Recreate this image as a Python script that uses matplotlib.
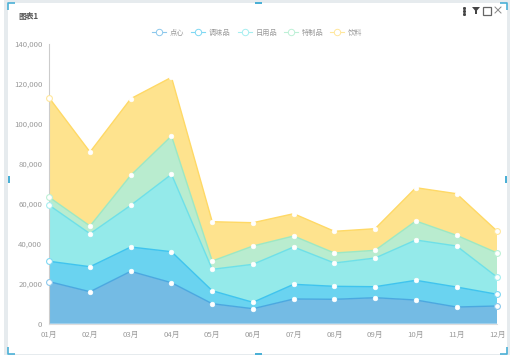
"""Stacked area chart of monthly sales inside a dashboard widget frame."""

import numpy as np
import matplotlib
matplotlib.use('Agg')
import matplotlib.pyplot as plt
from matplotlib.lines import Line2D
from matplotlib.patches import Rectangle

plt.rcParams['font.family'] = ['Noto Sans CJK SC', 'DejaVu Sans']

W, H = 515, 359

months = ['01月', '02月', '03月', '04月', '05月', '06月',
          '07月', '08月', '09月', '10月', '11月', '12月']
series_names = ['点心', '调味品', '日用品', '特制品', '饮料']

dessert = [21000, 16000, 26200, 20500, 10000, 7500, 12350, 12200, 13000, 11850, 8350, 8850]
seasoning = [10200, 12500, 12150, 15500, 6500, 3200, 7350, 6500, 5500, 9850, 10000, 5850]
daily = [28000, 16500, 20850, 38700, 10700, 19000, 18650, 11650, 14350, 20150, 20500, 8500]
special = [4000, 3850, 15000, 19150, 4150, 9150, 5500, 5000, 3850, 9500, 5350, 12150]
drinks = [49650, 37000, 38300, 29350, 19650, 11650, 11150, 10850, 10800, 16650, 20800, 10850]

y_ticks = [0, 20000, 40000, 60000, 80000, 100000, 120000, 140000]

fill_colors = ['#74BBE4', '#6AD3F0', '#94EAEA', '#B9ECCF', '#FEE38E']
line_colors = ['#4BA8E0', '#3FC4EE', '#6EE0E8', '#9CE8C4', '#FFD966']
ring_colors = ['#8CC8EC', '#7FD8F3', '#A6EEF0', '#BDF0D6', '#FFE79C']
TEXT = '#9A9A9A'
ACCENT = '#4BB0D6'
FRAME = '#E6EBEE'

fig = plt.figure(figsize=(W / 100, H / 100), dpi=100, facecolor='white')

# Widget chrome, drawn in pixel coordinates
chrome = fig.add_axes([0, 0, 1, 1], zorder=0)
chrome.set_xlim(0, W)
chrome.set_ylim(H, 0)
chrome.axis('off')
chrome.add_patch(Rectangle((4, 0), 506, 355, facecolor=FRAME, edgecolor='none'))
chrome.add_patch(Rectangle((8, 3), 499, 351, facecolor='white', edgecolor='none'))

# corner brackets
for xs, ys in [([8, 8, 15], [10, 3, 3]), ([500, 507, 507], [3, 3, 10]),
               ([8, 8, 15], [347, 354, 354]), ([500, 507, 507], [354, 354, 347])]:
    chrome.plot(xs, ys, color=ACCENT, lw=1.2, solid_capstyle='butt')
# resize handles
for x, y, w, h in [(8, 176, 2, 7), (505, 176, 2, 7), (255, 2, 7, 2), (255, 353, 7, 2)]:
    chrome.add_patch(Rectangle((x, y), w, h, facecolor=ACCENT, edgecolor='none'))

# toolbar icons
for y in (7.5, 10.5, 13.5):
    chrome.plot([463.5], [y], 's', ms=1.1, color='#444444')
chrome.fill([472, 480, 477, 477, 475, 475], [7, 7, 10.5, 14, 14, 10.5], color='#444444', lw=0)
chrome.add_patch(Rectangle((482.5, 6.5), 8, 8, facecolor='none', edgecolor='#666666', lw=0.9))
chrome.plot([495, 501], [7, 13], color='#888888', lw=0.7)
chrome.plot([495, 501], [13, 7], color='#888888', lw=0.7)
chrome.text(18, 16, '图表1', fontsize=5.6, color='#555555', fontweight='bold',
            ha='left', va='center')

# Chart area
ax = fig.add_axes([49.3 / W, 1 - 323.7 / H, 448 / W, 280 / H], zorder=1)
ax.patch.set_alpha(0)

x = np.arange(len(months))
stack = np.cumsum([dessert, seasoning, daily, special, drinks], axis=0)

ax.stackplot(x, dessert, seasoning, daily, special, drinks, colors=fill_colors, lw=0)

for top, color, ring in zip(stack, line_colors, ring_colors):
    ax.plot(x, top, color=color, lw=1.0, zorder=3)
    ax.plot(x[1:-1], top[1:-1], 'o', ms=3.4, mfc='white', mec='white', mew=0.4,
            zorder=4, clip_on=False)
    ax.plot(x[[0, -1]], top[[0, -1]], 'o', ms=4.2, mfc='white', mec=ring, mew=0.8,
            zorder=4, clip_on=False)

ax.set_xlim(0, len(months) - 1)
ax.set_ylim(0, 140000)
ax.set_xticks(x, months)
ax.set_yticks(y_ticks, [f'{v:,}' for v in y_ticks])
ax.tick_params(length=0, labelsize=5.6, labelcolor=TEXT, pad=5)
ax.tick_params(axis='x', pad=5)

for side in ('top', 'right'):
    ax.spines[side].set_visible(False)
ax.spines['left'].set_color('#CCCCCC')
ax.spines['left'].set_linewidth(0.8)
ax.spines['bottom'].set_color('#DDDDDD')
ax.spines['bottom'].set_linewidth(0.8)

handles = [Line2D([], [], color=c, lw=0.8, marker='o', ms=4.6, mfc='white', mec=c, mew=0.7)
           for c in ring_colors]
fig.legend(handles, series_names, loc='center', bbox_to_anchor=(257.5 / W, 1 - 33 / H), ncol=5,
           frameon=False, fontsize=5.2, labelcolor=TEXT, handlelength=1.9,
           handletextpad=0.55, columnspacing=0.95, borderpad=0)

fig.savefig('out.png', dpi=100, facecolor='white')
